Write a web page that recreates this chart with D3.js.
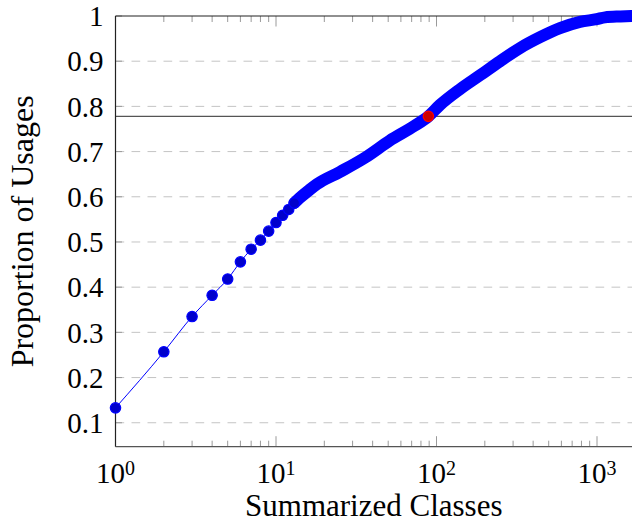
<!DOCTYPE html>
<html>
<head>
<meta charset="utf-8">
<script src="https://cdn.jsdelivr.net/npm/d3@7"></script>
<style>
  body { margin: 0; background: #fff; }
  svg { display: block; }
  text { font-family: "Liberation Serif", "Times New Roman", serif; fill: #000; }
</style>
</head>
<body>
<div id="chart"></div>
<script>
// left part of the curve: one marker per class, readable one by one
const sparseClasses = [1, 2, 3, 4, 5, 6, 7, 8, 9, 10, 11, 12, 13];
const sparseUsage = [0.133, 0.257, 0.335, 0.382, 0.418, 0.456, 0.484, 0.504, 0.524, 0.543, 0.559, 0.572, 0.586];

// right part: markers overlap into a band, values read along its centre
const denseClasses = [14, 16, 18, 25, 36, 51, 73, 89, 105, 140, 187, 249, 331, 442, 588, 783, 995, 1122, 1400, 1652];
const denseUsage = [0.597, 0.614, 0.628, 0.655, 0.687, 0.724, 0.757, 0.778, 0.803, 0.838, 0.869, 0.900, 0.929, 0.953, 0.973, 0.987, 0.993, 0.997, 0.999, 1.0];

// highlighted class and the cutoff line through it
const cutoffClass = [89];
const cutoffUsage = [0.778];

const yTicks = [0.1, 0.2, 0.3, 0.4, 0.5, 0.6, 0.7, 0.8, 0.9, 1];
const yTickLabels = ['0.1', '0.2', '0.3', '0.4', '0.5', '0.6', '0.7', '0.8', '0.9', '1'];
const xDecades = [1, 10, 100, 1000];
const xDecadeExp = ['0', '1', '2', '3'];

const width = 632, height = 523;
const plot = { left: 115.5, right: 632, top: 16, bottom: 446.7 };

const svg = d3.select('#chart').append('svg')
    .attr('width', width)
    .attr('height', height);

const x = d3.scaleLog()
    .domain([1, 1652])
    .range([plot.left, plot.right]);

const y = d3.scaleLinear()
    .domain([0.047, 1])
    .range([plot.bottom, plot.top]);

// dashed grid
svg.append('g')
  .selectAll('line')
  .data(yTicks.filter(d => d < 1))
  .enter().append('line')
    .attr('x1', plot.left)
    .attr('x2', plot.right)
    .attr('y1', d => y(d))
    .attr('y2', d => y(d))
    .attr('stroke', '#c4c4c4')
    .attr('stroke-width', 1)
    .attr('stroke-dasharray', '8.7,7.3');

// minor / major ticks on the log axis (bottom and top, pointing inside)
const xMinor = [];
xDecades.forEach(dec => {
  for (let k = 2; k <= 9; k++) {
    if (dec * k <= x.domain()[1]) xMinor.push(dec * k);
  }
});

const ticks = svg.append('g').attr('stroke', '#9a9a9a').attr('stroke-width', 1);
[plot.bottom, plot.top].forEach(edge => {
  const dir = edge === plot.bottom ? -1 : 1;
  ticks.selectAll(null)
      .data(xMinor)
    .enter().append('line')
      .attr('x1', d => x(d)).attr('x2', d => x(d))
      .attr('y1', edge).attr('y2', edge + dir * 6);
  ticks.selectAll(null)
      .data(xDecades)
    .enter().append('line')
      .attr('x1', d => x(d)).attr('x2', d => x(d))
      .attr('y1', edge).attr('y2', edge + dir * 10.5);
});
ticks.selectAll(null)
    .data(yTicks)
  .enter().append('line')
    .attr('x1', plot.left).attr('x2', plot.left + 6.5)
    .attr('y1', d => y(d)).attr('y2', d => y(d));

// cutoff line
svg.append('line')
    .attr('x1', plot.left)
    .attr('x2', plot.right)
    .attr('y1', y(cutoffUsage[0]))
    .attr('y2', y(cutoffUsage[0]))
    .attr('stroke', '#555')
    .attr('stroke-width', 1.4);

// frame
const frame = svg.append('g').attr('stroke', '#222').attr('stroke-width', 1.2).attr('fill', 'none');
frame.append('line').attr('x1', plot.left).attr('x2', plot.left).attr('y1', plot.top).attr('y2', plot.bottom);
frame.append('line').attr('x1', plot.left).attr('x2', plot.right).attr('y1', plot.top).attr('y2', plot.top);
frame.append('line').attr('x1', plot.left).attr('x2', plot.right).attr('y1', plot.bottom).attr('y2', plot.bottom)
    .attr('stroke', '#555');

// series
const sparse = sparseClasses.map((c, i) => [c, sparseUsage[i]]);
const dense = denseClasses.map((c, i) => [c, denseUsage[i]]);
const all = sparse.concat(dense);

const line = d3.line()
    .x(d => x(d[0]))
    .y(d => y(d[1]))
    .curve(d3.curveMonotoneX);

svg.append('path')
    .datum(all)
    .attr('d', line)
    .attr('fill', 'none')
    .attr('stroke', '#0000ff')
    .attr('stroke-width', 1);

// overlapping markers drawn as one thick band
svg.append('path')
    .datum([sparse[sparse.length - 1]].concat(dense))
    .attr('d', line)
    .attr('fill', 'none')
    .attr('stroke', '#0000ff')
    .attr('stroke-width', 12)
    .attr('stroke-linecap', 'round')
    .attr('stroke-linejoin', 'round');

svg.append('g')
  .selectAll('circle')
  .data(sparse)
  .enter().append('circle')
    .attr('cx', d => x(d[0]))
    .attr('cy', d => y(d[1]))
    .attr('r', 5.2)
    .attr('fill', '#0000cc')
    .attr('stroke', '#0000ff')
    .attr('stroke-width', 1.2);

svg.append('circle')
    .attr('cx', x(cutoffClass[0]))
    .attr('cy', y(cutoffUsage[0]))
    .attr('r', 5.2)
    .attr('fill', '#cc0000')
    .attr('stroke', '#ff0000')
    .attr('stroke-width', 1.2);

// tick labels
svg.append('g')
  .selectAll('text')
  .data(yTicks)
  .enter().append('text')
    .attr('x', 103.5)
    .attr('y', d => y(d) + 10.3)
    .attr('text-anchor', 'end')
    .style('font-size', '29px')
    .text((d, i) => yTickLabels[i]);

const xl = svg.append('g')
  .selectAll('text')
  .data(xDecades)
  .enter().append('text')
    .attr('x', d => x(d))
    .attr('y', 482.7)
    .attr('text-anchor', 'middle')
    .style('font-size', '29px');
xl.append('tspan').text('10');
xl.append('tspan')
    .attr('dy', -8)
    .style('font-size', '20px')
    .text((d, i) => xDecadeExp[i]);

// axis titles
svg.append('text')
    .attr('x', (plot.left + plot.right) / 2)
    .attr('y', 516)
    .attr('text-anchor', 'middle')
    .style('font-size', '31px')
    .text('Summarized Classes');

svg.append('text')
    .attr('transform', `translate(33.3, ${(plot.top + plot.bottom) / 2}) rotate(-90)`)
    .attr('text-anchor', 'middle')
    .style('font-size', '32px')
    .text('Proportion of Usages');
</script>
</body>
</html>
